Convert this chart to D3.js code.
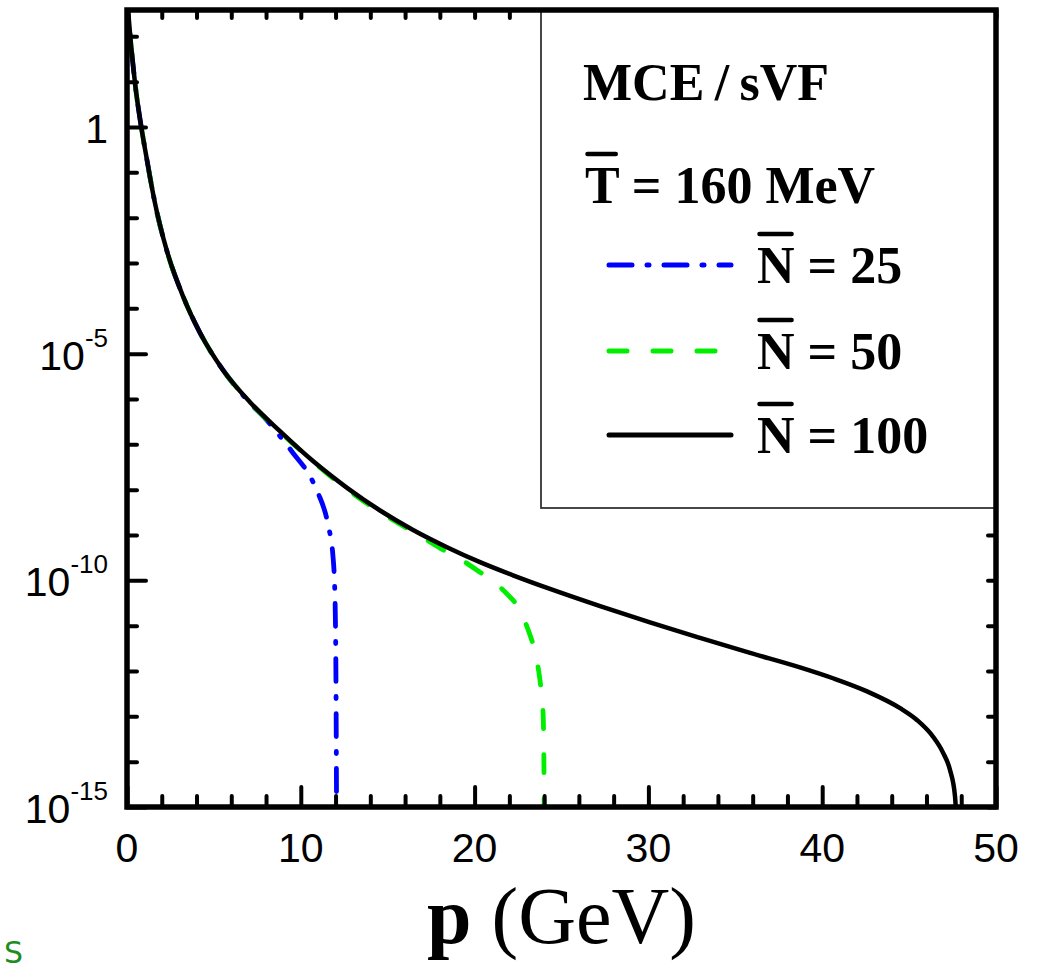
<!DOCTYPE html>
<html>
<head>
<meta charset="utf-8">
<script src="https://cdn.jsdelivr.net/npm/d3@7"></script>
<style>
  html, body { margin: 0; padding: 0; background: #fff; }
  svg { display: block; }
</style>
</head>
<body>
<svg id="chart" width="1041" height="972"></svg>
<script>
// ---------------- data ----------------
// p in GeV, values given as log10 of the spectrum
const n100P   = [0, 0.06, 0.46, 0.82, 1.15, 1.32, 1.61, 2.30, 3.22, 4.20, 5.52, 7.08, 8.80, 10.70, 12.66, 14.56, 16.46, 18.41, 20.31, 22.21, 24.34, 27.22, 30.09, 32.97, 35.85, 38.72, 40.62, 42.58, 44.48, 45.45, 46.38, 46.95, 47.35, 47.64, 47.74];
const n100Exp = [2.9, 2.58, 0.97, 0, -0.73, -1.10, -1.68, -2.74, -3.73, -4.54, -5.36, -6.07, -6.71, -7.37, -7.96, -8.46, -8.89, -9.27, -9.60, -9.89, -10.19, -10.57, -10.93, -11.27, -11.60, -11.92, -12.16, -12.45, -12.82, -13.08, -13.45, -13.80, -14.18, -14.76, -15.4];

const n50P    = [0, 0.06, 0.46, 0.82, 1.15, 1.32, 1.61, 2.30, 3.22, 4.20, 5.52, 7.08, 8.80, 10.70, 12.66, 13.98, 15.30, 16.86, 18.01, 19.16, 20.31, 21.06, 21.86, 22.61, 23.02, 23.48, 23.76, 23.94, 23.98, 24.01];
const n50Exp  = [2.9, 2.58, 0.97, 0, -0.73, -1.10, -1.68, -2.74, -3.73, -4.54, -5.36, -6.08, -6.72, -7.38, -7.99, -8.35, -8.67, -9.02, -9.29, -9.53, -9.82, -10.02, -10.30, -10.66, -11.03, -11.60, -12.20, -12.93, -13.68, -15.4];

const n25P    = [0, 0.06, 0.46, 0.82, 1.15, 1.32, 1.61, 2.30, 3.22, 4.20, 5.52, 7.08, 8.00, 8.80, 9.55, 10.41, 10.99, 11.57, 11.85, 11.97, 12.03, 12.06];
const n25Exp  = [2.9, 2.58, 0.97, 0, -0.73, -1.10, -1.68, -2.74, -3.73, -4.54, -5.36, -6.09, -6.45, -6.82, -7.19, -7.63, -8.07, -8.78, -9.46, -10.43, -12.64, -15.4];

const xMajorTicks = [0, 10, 20, 30, 40, 50];
const xMinorTicks = [2, 4, 6, 8, 12, 14, 16, 18, 22, 24, 26, 28, 32, 34, 36, 38, 42, 44, 46, 48];
const yMajorExps  = [0, -5, -10, -15];
const yMinorExps  = [2, 1, -1, -2, -3, -4, -6, -7, -8, -9, -11, -12, -13, -14];

const legendTitle = "MCE\u2009/\u2009sVF";
const legendTemp  = "T = 160 MeV";
const legendNames = ["25", "50", "100"];
const seriesColors = ["#0000ff", "#00ee00", "#000000"];
const seriesDashes = ["23,15,2,15", "18,26", null];
const xTitleBold = "p";
const xTitleRest = " (GeV)";

// ---------------- layout ----------------
const svg = d3.select("#chart");
const L = 127, R = 996, T = 10, B = 807;
const x = d3.scaleLinear().domain([0, 50]).range([L, R]);
const y = d3.scaleLog().domain([1e-15, Math.pow(10, 2.58)]).range([B, T]);
const sansFont = "'Liberation Sans', Arial, sans-serif";
const serifFont = "'Liberation Serif', 'Times New Roman', serif";

svg.append("rect").attr("width", 1041).attr("height", 972).attr("fill", "#fff");

svg.append("defs").append("clipPath").attr("id", "plotclip")
  .append("rect").attr("x", L).attr("y", T).attr("width", R - L).attr("height", B - T);

const toPts = (ps, es) => ps.map((p, i) => ({ p: p, v: Math.pow(10, es[i]) }));
const series = [toPts(n25P, n25Exp), toPts(n50P, n50Exp), toPts(n100P, n100Exp)];

const line = d3.line()
  .x(d => x(d.p))
  .y(d => y(d.v))
  .curve(d3.curveMonotoneX);

const gCurves = svg.append("g").attr("clip-path", "url(#plotclip)");
series.forEach((s, i) => {
  gCurves.append("path")
    .datum(s)
    .attr("d", line)
    .attr("fill", "none")
    .attr("stroke", seriesColors[i])
    .attr("stroke-width", i === 2 ? 4.5 : 4.8)
    .attr("stroke-linecap", seriesDashes[i] ? "round" : "butt")
    .attr("stroke-linejoin", "round")
    .attr("stroke-dasharray", seriesDashes[i]);
});

// ---------------- ticks (inward on all four sides) ----------------
function styleTicks(g) {
  g.select(".domain").remove();
  g.selectAll(".tick line").attr("stroke", "#000").attr("stroke-width", 4).attr("stroke-linecap", "round");
  g.selectAll(".tick text").remove();
}
svg.append("g").attr("transform", `translate(0,${B})`)
  .call(d3.axisBottom(x).tickValues(xMajorTicks).tickSize(-20)).call(styleTicks);
svg.append("g").attr("transform", `translate(0,${B})`)
  .call(d3.axisBottom(x).tickValues(xMinorTicks).tickSize(-11)).call(styleTicks);
svg.append("g").attr("transform", `translate(0,${T})`)
  .call(d3.axisTop(x).tickValues(xMajorTicks.concat(xMinorTicks)).tickSize(-8)).call(styleTicks);

const yMajVals = yMajorExps.map(e => Math.pow(10, e));
const yMinVals = yMinorExps.map(e => Math.pow(10, e));
svg.append("g").attr("transform", `translate(${L},0)`)
  .call(d3.axisLeft(y).tickValues(yMajVals).tickSize(-19)).call(styleTicks);
svg.append("g").attr("transform", `translate(${L},0)`)
  .call(d3.axisLeft(y).tickValues(yMinVals).tickSize(-10)).call(styleTicks);
svg.append("g").attr("transform", `translate(${R},0)`)
  .call(d3.axisRight(y).tickValues(yMajVals.concat(yMinVals)).tickSize(-8)).call(styleTicks);

// ---------------- tick labels ----------------
svg.append("g").selectAll("text").data(xMajorTicks).join("text")
  .attr("x", d => x(d)).attr("y", 862)
  .attr("text-anchor", "middle")
  .attr("font-family", sansFont).attr("font-size", 41)
  .attr("fill", "#000")
  .text(d => d);

const yl = svg.append("g").selectAll("text").data(yMajorExps).join("text")
  .attr("x", 108).attr("y", d => y(Math.pow(10, d)) + 16)
  .attr("text-anchor", "end")
  .attr("font-family", sansFont).attr("font-size", 41)
  .attr("fill", "#000");
yl.each(function(d) {
  const t = d3.select(this);
  if (d === 0) { t.text("1"); return; }
  t.append("tspan").text("10");
  t.append("tspan").attr("font-size", 26).attr("dy", -23).text(String(d));
});

// ---------------- legend ----------------
svg.append("rect")
  .attr("x", 541).attr("y", T).attr("width", R - 541).attr("height", 508 - T)
  .attr("fill", "#fff").attr("stroke", "#333").attr("stroke-width", 1.8);

svg.append("text").attr("x", 583).attr("y", 100)
  .attr("font-family", serifFont).attr("font-weight", "bold").attr("font-size", 52)
  .attr("fill", "#000").text(legendTitle);

function barText(xp, yb, txt) {
  const t = svg.append("text").attr("x", xp).attr("y", yb)
    .attr("font-family", serifFont).attr("font-weight", "bold").attr("font-size", 52)
    .attr("fill", "#000").text(txt);
  const w = t.node().getSubStringLength(0, 1);
  svg.append("line")
    .attr("x1", xp + 2.5).attr("x2", xp + w - 3)
    .attr("y1", yb - 49).attr("y2", yb - 49)
    .attr("stroke", "#000").attr("stroke-width", 4.5).attr("stroke-linecap", "round");
}
barText(585, 203, legendTemp);

const legendBase = [283, 369, 453];
legendNames.forEach((n, i) => {
  svg.append("line")
    .attr("x1", 609).attr("x2", 731)
    .attr("y1", legendBase[i] - 18).attr("y2", legendBase[i] - 18)
    .attr("stroke", seriesColors[i]).attr("stroke-width", 5)
    .attr("stroke-linecap", "round")
    .attr("stroke-dasharray", seriesDashes[i]);
  barText(757, legendBase[i], "N = " + n);
});

// ---------------- frame ----------------
svg.append("rect").attr("x", L).attr("y", T).attr("width", R - L).attr("height", B - T)
  .attr("fill", "none").attr("stroke", "#000").attr("stroke-width", 5.5);

// ---------------- axis title ----------------
const xt = svg.append("text").attr("x", (L + R) / 2).attr("y", 943)
  .attr("text-anchor", "middle")
  .attr("font-family", serifFont).attr("font-size", 80).attr("fill", "#000");
xt.append("tspan").attr("font-weight", "bold").text(xTitleBold);
xt.append("tspan").text(xTitleRest);

// stray page text at bottom-left of the reference crop
svg.append("text").attr("x", 4).attr("y", 963)
  .attr("font-family", "'DejaVu Sans', sans-serif").attr("font-size", 30)
  .attr("fill", "#1e8c1e").text("S");
</script>
</body>
</html>
